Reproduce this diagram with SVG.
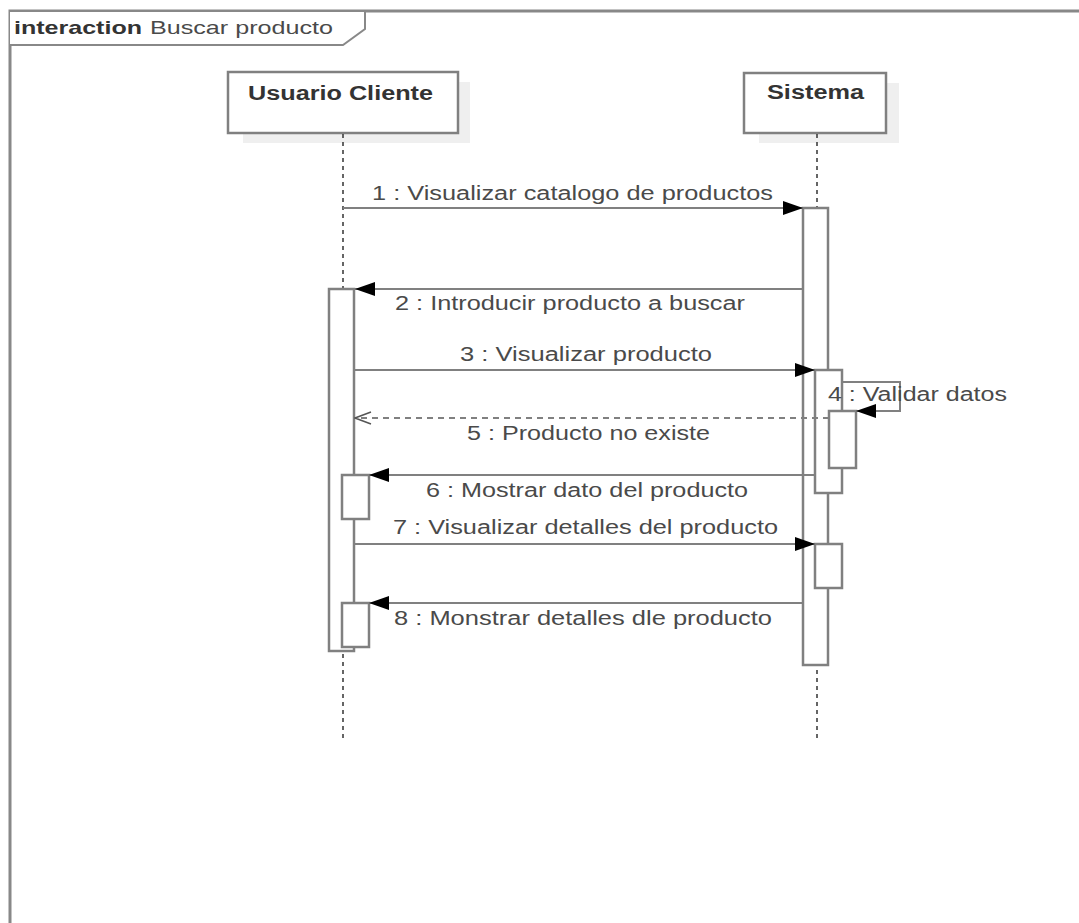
<svg xmlns="http://www.w3.org/2000/svg" width="1079" height="923" viewBox="0 0 1079 923">
<defs>
<style>
text{font-family:"Liberation Sans",Arial,sans-serif;fill:#4a4a4a;font-size:20px}
.hd{font-weight:bold;fill:#333}
.box{fill:#fff;stroke:#808080;stroke-width:2.5}
.shadow{fill:#efefef;stroke:none}
.life{stroke:#333;stroke-width:1.5;stroke-dasharray:4,4;fill:none}
.act{fill:#fff;stroke:#808080;stroke-width:2.5}
.msg{stroke:#808080;stroke-width:2;fill:none}
.ret{stroke:#808080;stroke-width:2;fill:none;stroke-dasharray:6,5}
.frame{fill:none;stroke:#888;stroke-width:3}
</style>
<marker id="fill" viewBox="0 0 20 14" refX="20" refY="7" markerWidth="20" markerHeight="14" markerUnits="userSpaceOnUse" orient="auto">
<path d="M0,0 L20,7 L0,14 Z" fill="#000"/>
</marker>
<marker id="open" viewBox="0 0 18 14" refX="17" refY="7" markerWidth="18" markerHeight="14" markerUnits="userSpaceOnUse" orient="auto">
<path d="M1,1 L17,7 L1,13" fill="none" stroke="#555" stroke-width="1.5"/>
</marker>
</defs>
<rect width="1079" height="923" fill="#fff"/>
<g id="frame">
<path class="frame" d="M10,925 L10,11 L1081,11"/>
<path d="M10,11 L365,11 L365,29 L343,45 L10,45" fill="#fff" stroke="#888" stroke-width="2"/>
<text x="14" y="34" class="hd" textLength="128" lengthAdjust="spacingAndGlyphs" style="font-size:19px;fill:#333">interaction</text>
<text x="150" y="34" textLength="183" lengthAdjust="spacingAndGlyphs" style="font-size:19px">Buscar producto</text>
</g>
<g id="usuario">
<rect class="shadow" x="243" y="82" width="227" height="61"/>
<rect class="box" x="228" y="72" width="230" height="61"/>
<text x="248" y="100" class="hd" textLength="185" lengthAdjust="spacingAndGlyphs">Usuario Cliente</text>
<line class="life" x1="343" y1="134" x2="343" y2="738"/>
</g>
<g id="sistema">
<rect class="shadow" x="759" y="83" width="140" height="60"/>
<rect class="box" x="744" y="73" width="142" height="60"/>
<text x="767" y="99" class="hd" textLength="97" lengthAdjust="spacingAndGlyphs">Sistema</text>
<line class="life" x1="817" y1="134" x2="817" y2="738"/>
</g>
<g id="activations">
<rect class="act" x="803" y="208" width="25" height="457"/>
<rect class="act" x="815" y="370" width="27" height="123"/>
<rect class="act" x="829" y="411" width="27" height="57"/>
<rect class="act" x="815" y="544" width="27" height="44"/>
<rect class="act" x="329" y="289" width="25" height="362"/>
<rect class="act" x="342" y="475" width="27" height="44"/>
<rect class="act" x="342" y="603" width="27" height="44"/>
</g>
<g id="connectors">
<line class="msg" x1="343" y1="208" x2="803" y2="208" marker-end="url(#fill)"/>
<line class="msg" x1="803" y1="289" x2="355" y2="289" marker-end="url(#fill)"/>
<line class="msg" x1="355" y1="370" x2="815" y2="370" marker-end="url(#fill)"/>
<path class="msg" d="M842,382 L900,382 L900,411 L856,411" marker-end="url(#fill)"/>
<line class="ret" x1="829" y1="418" x2="355" y2="418" marker-end="url(#open)"/>
<line class="msg" x1="815" y1="475" x2="369" y2="475" marker-end="url(#fill)"/>
<line class="msg" x1="355" y1="544" x2="815" y2="544" marker-end="url(#fill)"/>
<line class="msg" x1="803" y1="603" x2="369" y2="603" marker-end="url(#fill)"/>
</g>
<g id="labels">
<text x="372" y="200" textLength="401" lengthAdjust="spacingAndGlyphs">1 : Visualizar catalogo de productos</text>
<text x="395" y="310" textLength="350" lengthAdjust="spacingAndGlyphs">2 : Introducir producto a buscar</text>
<text x="460" y="361" textLength="252" lengthAdjust="spacingAndGlyphs">3 : Visualizar producto</text>
<text x="828" y="401" textLength="179" lengthAdjust="spacingAndGlyphs">4 : Validar datos</text>
<text x="467" y="440" textLength="243" lengthAdjust="spacingAndGlyphs">5 : Producto no existe</text>
<text x="426" y="497" textLength="322" lengthAdjust="spacingAndGlyphs">6 : Mostrar dato del producto</text>
<text x="393" y="534" textLength="385" lengthAdjust="spacingAndGlyphs">7 : Visualizar detalles del producto</text>
<text x="394" y="625" textLength="378" lengthAdjust="spacingAndGlyphs">8 : Monstrar detalles dle producto</text>
</g>
</svg>
